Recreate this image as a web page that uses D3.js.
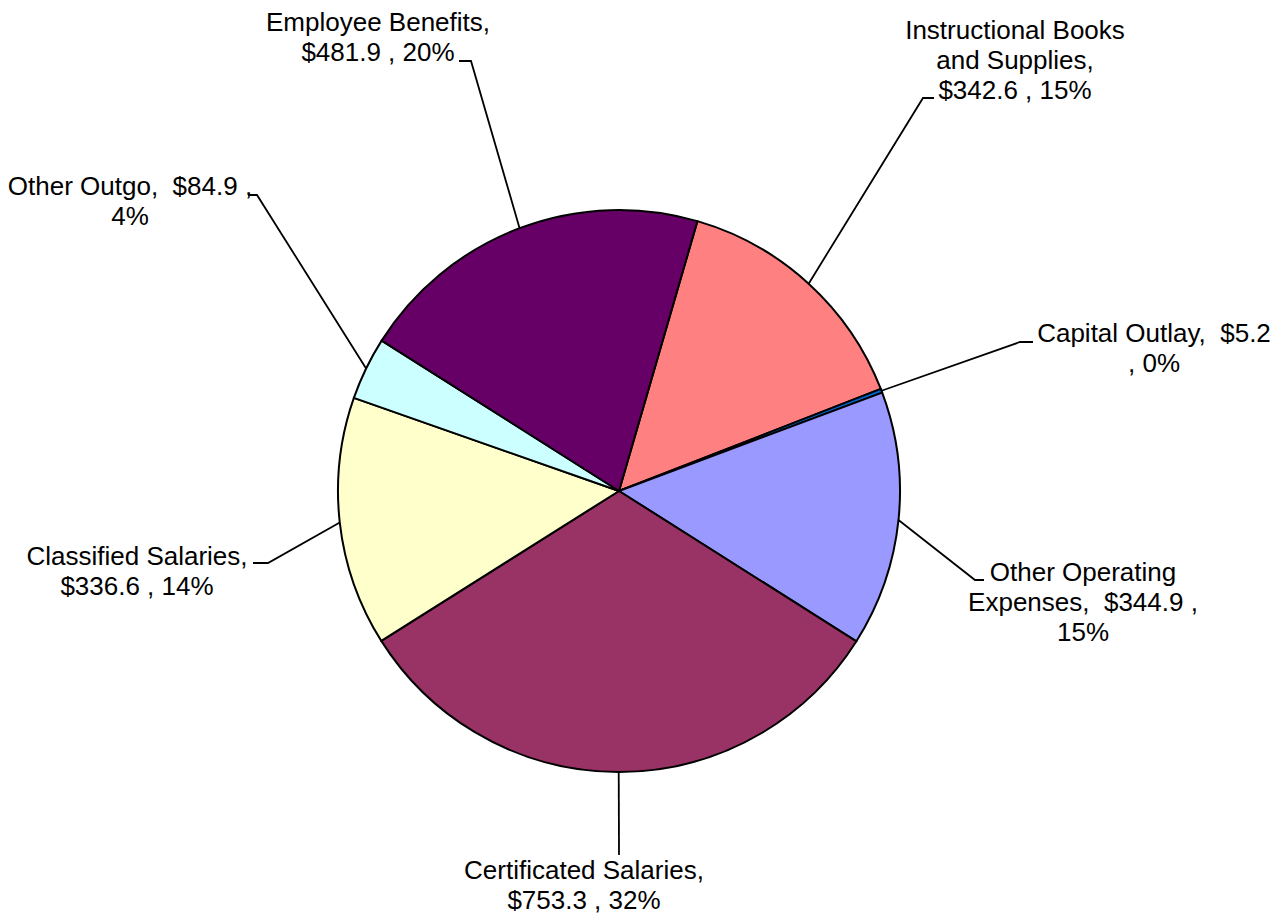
<!DOCTYPE html>
<html>
<head>
<meta charset="utf-8">
<script src="https://d3js.org/d3.v7.min.js"></script>
<style>
  body { margin: 0; background: #ffffff; }
  text { font-family: "Liberation Sans", Arial, sans-serif; fill: #000000; }
</style>
</head>
<body>
<div id="pie"></div>
<script>
    var svgWidth = 1284;
    var svgHeight = 916;

    // Slices, clockwise from the top-right wedge
    var categories = ["Instructional Books and Supplies", "Capital Outlay", "Other Operating Expenses",
      "Certificated Salaries", "Classified Salaries", "Other Outgo", "Employee Benefits"];
    var amounts = [342.6, 5.2, 344.9, 753.3, 336.6, 84.9, 481.9];
    var percentLabels = ["15%", "0%", "15%", "32%", "14%", "4%", "20%"];

    // label lines as printed on the chart
    var labelLines = [
      ["Instructional Books", "and Supplies,", "$342.6 , 15%"],
      ["Capital Outlay,  $5.2", ", 0%"],
      ["Other Operating", "Expenses,  $344.9 ,", "15%"],
      ["Certificated Salaries,", "$753.3 , 32%"],
      ["Classified Salaries,", "$336.6 , 14%"],
      ["Other Outgo,  $84.9 ,", "4%"],
      ["Employee Benefits,", "$481.9 , 20%"]
    ];

    var colors = ["#FF8080", "#0066CC", "#9999FF", "#993366", "#FFFFCC", "#CCFFFF", "#660066"];

///////////////////////////////////////////////////////////
/////////// layout of pie and labels //////////////////////
///////////////////////////////////////////////////////////

    var cx = 619, cy = 491, radius = 281;
    var startDeg = 16.2;

    // label block: center x, first baseline; leader elbow and end
    var labelLayout = [
      { x: 1015, y: 39, elbow: [923, 98], end: [934, 98] },
      { x: 1154, y: 342, elbow: [1020, 342], end: [1033, 342] },
      { x: 1083, y: 581, elbow: [975, 580], end: [984, 580] },
      { x: 584, y: 879, elbow: [619, 855], end: [619, 855] },
      { x: 137, y: 565, elbow: [268, 563], end: [253, 563] },
      { x: 130, y: 195, elbow: [257, 195], end: [248, 195] },
      { x: 378, y: 31, elbow: [471, 61], end: [459, 61] }
    ];

    var fontSize = 26;
    var lineGap = 30;

    var svg = d3
      .select("#pie")
      .append("svg")
      .attr("width", svgWidth)
      .attr("height", svgHeight);

    var pieGroup = svg.append("g")
      .attr("transform", `translate(${cx}, ${cy})`);

    var slices = categories.map(function(c, i) {
      return { name: c, value: amounts[i], pct: percentLabels[i], color: colors[i], lines: labelLines[i], layout: labelLayout[i] };
    });

    var pie = d3.pie()
      .sort(null)
      .value(d => d.value)
      .startAngle(startDeg * Math.PI / 180)
      .endAngle(startDeg * Math.PI / 180 + 2 * Math.PI);

    var arc = d3.arc()
      .innerRadius(0)
      .outerRadius(radius);

    var arcs = pie(slices);

    // wedges
    pieGroup.selectAll(".slice")
      .data(arcs)
      .enter()
      .append("path")
      .attr("class", "slice")
      .attr("d", arc)
      .attr("fill", d => d.data.color)
      .attr("stroke", "#000000")
      .attr("stroke-width", 2)
      .attr("stroke-linejoin", "round");

    // leader lines: from the rim at mid angle, to elbow, to end
    svg.selectAll(".leader")
      .data(arcs)
      .enter()
      .append("polyline")
      .attr("class", "leader")
      .attr("fill", "none")
      .attr("stroke", "#000000")
      .attr("stroke-width", 1.8)
      .attr("points", function(d) {
        var mid = (d.startAngle + d.endAngle) / 2;
        var px = cx + radius * Math.sin(mid);
        var py = cy - radius * Math.cos(mid);
        var l = d.data.layout;
        return [[px, py], l.elbow, l.end].map(p => p.join(",")).join(" ");
      });

    // labels
    var labelGroups = svg.selectAll(".label")
      .data(arcs)
      .enter()
      .append("text")
      .attr("class", "label")
      .attr("text-anchor", "middle")
      .attr("font-size", fontSize + "px")
      .attr("x", d => d.data.layout.x)
      .attr("y", d => d.data.layout.y);

    labelGroups.selectAll("tspan")
      .data(d => d.data.lines.map(t => ({ text: t, x: d.data.layout.x })))
      .enter()
      .append("tspan")
      .attr("x", d => d.x)
      .attr("dy", (d, i) => i === 0 ? 0 : lineGap)
      .attr("xml:space", "preserve")
      .style("white-space", "pre")
      .text(d => d.text);
</script>
</body>
</html>
